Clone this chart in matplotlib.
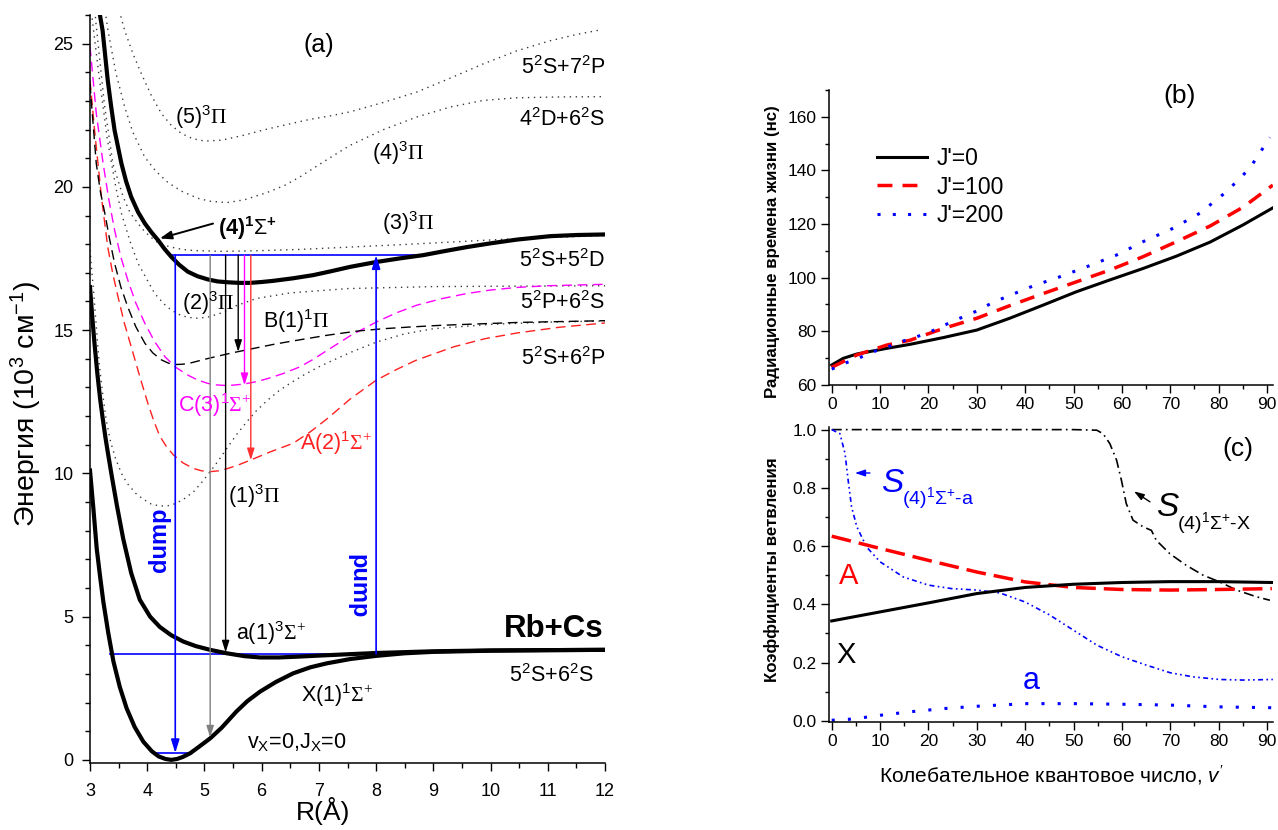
import matplotlib
matplotlib.use("Agg")
import matplotlib.pyplot as plt
from matplotlib.ticker import MultipleLocator, FormatStrFormatter

plt.rcParams['font.family'] = ['Liberation Sans', 'DejaVu Sans']
plt.rcParams['mathtext.fontset'] = 'custom'
plt.rcParams['mathtext.rm'] = 'Liberation Serif'
plt.rcParams['mathtext.sf'] = 'Liberation Sans'
plt.rcParams['mathtext.it'] = 'Liberation Sans:italic'
plt.rcParams['mathtext.bf'] = 'Liberation Sans:bold'

# ---------------- panel (a): potential curves (R in Å, E in 10^3 cm-1) ----------------
X_R = [3.0, 3.06, 3.117, 3.175, 3.233, 3.32, 3.41, 3.52, 3.64, 3.78, 3.93, 4.08, 4.2, 4.32, 4.42, 4.52, 4.62, 4.75,
       4.9, 5.1, 5.3, 5.56, 5.75, 5.97, 6.25, 6.55, 6.85, 7.14, 7.55, 8.0, 8.5, 9.0, 10.0, 11.0, 12.0]
X_E = [10.1, 8.75, 7.38, 6.42, 5.52, 4.42, 3.43, 2.55, 1.80, 1.15, 0.64, 0.3, 0.12, 0.03, 0.0, 0.03, 0.1, 0.23,
       0.45, 0.75, 1.12, 1.69, 2.05, 2.38, 2.72, 3.02, 3.23, 3.37, 3.52, 3.63, 3.72, 3.77, 3.81, 3.83, 3.84]

a_R = [3.0, 3.04, 3.08, 3.13, 3.18, 3.22, 3.27, 3.31, 3.38, 3.47, 3.58, 3.72, 3.87, 4.05, 4.22, 4.42, 4.63, 4.85,
       5.1, 5.39, 5.7, 5.97, 6.3, 6.6, 7.0, 7.55, 8.0, 9.0, 10.0, 12.0]
a_E = [16.5, 15.45, 14.5, 13.45, 12.55, 11.95, 11.25, 10.75, 9.91, 8.88, 7.72, 6.52, 5.59, 5.0, 4.64, 4.35, 4.13,
       3.97, 3.84, 3.72, 3.62, 3.575, 3.575, 3.6, 3.64, 3.69, 3.73, 3.79, 3.82, 3.84]

S4_R = [3.14, 3.22, 3.31, 3.37, 3.43, 3.55, 3.63, 3.72, 3.84, 3.96, 4.08, 4.19, 4.3, 4.42, 4.56, 4.71, 4.88, 5.06,
        5.23, 5.41, 5.6, 5.8, 6.0, 6.2, 6.55, 6.9, 7.2, 7.55, 8.01, 8.4, 8.83, 9.2, 9.59, 10.0, 10.46, 11.04, 11.5, 12.0]
S4_E = [26.4, 25.46, 23.72, 22.8, 21.97, 20.81, 20.2, 19.65, 19.12, 18.72, 18.4, 18.14, 17.84, 17.56, 17.28, 17.04,
        16.88, 16.77, 16.7, 16.67, 16.65, 16.65, 16.68, 16.72, 16.81, 16.92, 17.05, 17.21, 17.38, 17.5, 17.62, 17.76,
        17.9, 18.03, 18.16, 18.28, 18.32, 18.34]

A_R = [3.0, 3.08, 3.2, 3.31, 3.4, 3.49, 3.6, 3.72, 3.86, 4.01, 4.12, 4.22, 4.34, 4.46, 4.63, 4.81, 4.95, 5.1, 5.25,
       5.39, 5.6, 5.8, 6.15, 6.55, 6.85, 7.14, 7.55, 8.0, 8.35, 8.7, 9.36, 9.9, 10.46, 11.2, 12.0]
A_E = [23.72, 21.97, 19.65, 17.9, 16.95, 16.16, 15.25, 14.42, 13.45, 12.45, 11.8, 11.3, 10.92, 10.64, 10.36, 10.17,
       10.09, 10.06, 10.09, 10.16, 10.3, 10.46, 10.75, 11.05, 11.45, 11.9, 12.6, 13.25, 13.62, 13.95, 14.42, 14.7,
       14.9, 15.1, 15.25]

B_R = [3.0, 3.04, 3.11, 3.18, 3.26, 3.34, 3.43, 3.54, 3.66, 3.8, 3.96, 4.1, 4.25, 4.38, 4.5, 4.62, 4.75, 5.0, 5.25,
       5.47, 5.88, 6.2, 6.48, 7.14, 7.68, 8.13, 8.6, 9.15, 10.5, 12.0]
B_E = [23.6, 22.56, 20.81, 19.85, 19.07, 18.2, 17.33, 16.5, 15.81, 15.12, 14.54, 14.2, 13.96, 13.84, 13.8, 13.81,
       13.85, 13.98, 14.1, 14.2, 14.37, 14.5, 14.6, 14.82, 14.97, 15.05, 15.11, 15.17, 15.27, 15.33]

C_R = [3.0, 3.11, 3.23, 3.33, 3.43, 3.54, 3.66, 3.8, 3.96, 4.13, 4.31, 4.5, 4.71, 4.88, 5.06, 5.2, 5.35, 5.5, 5.7,
       5.9, 6.09, 6.37, 6.67, 6.9, 7.15, 7.545, 8.01, 8.35, 8.71, 9.15, 9.59, 10.0, 10.46, 11.0, 12.0]
C_E = [24.9, 22.56, 20.81, 19.55, 18.49, 17.55, 16.75, 15.95, 15.23, 14.6, 14.07, 13.7, 13.43, 13.26, 13.14, 13.09,
       13.07, 13.08, 13.12, 13.2, 13.3, 13.48, 13.72, 13.98, 14.3, 14.8, 15.29, 15.6, 15.87, 16.1, 16.28, 16.4, 16.49,
       16.55, 16.6]

P1_R = [3.0, 3.07, 3.16, 3.22, 3.28, 3.36, 3.45, 3.55, 3.65, 3.8, 3.93, 4.07, 4.22, 4.36, 4.5, 4.65, 4.81, 4.95,
        5.1, 5.25, 5.39, 5.56, 5.74, 5.9, 6.1, 6.3, 6.5, 6.75, 7.0, 7.25, 7.55, 8.0, 8.5, 9.0, 10.0, 11.0, 12.0]
P1_E = [17.8, 16.16, 13.84, 12.8, 11.9, 11.1, 10.5, 10.0, 9.65, 9.3, 9.1, 8.93, 8.86, 8.87, 8.95, 9.12, 9.36, 9.68,
        10.06, 10.46, 10.87, 11.35, 11.8, 12.17, 12.55, 12.88, 13.15, 13.45, 13.72, 13.95, 14.22, 14.58, 14.87, 15.05,
        15.2, 15.28, 15.32]

P2_R = [3.0, 3.15, 3.3, 3.45, 3.55, 3.7, 3.84, 4.0, 4.13, 4.3, 4.42, 4.6, 4.83, 5.05, 5.3, 5.55, 5.9, 6.5, 7.5, 9.0, 12.0]
P2_E = [26.5, 24.0, 21.7, 20.0, 19.07, 18.1, 17.33, 16.75, 16.28, 15.9, 15.7, 15.5, 15.41, 15.45, 15.6, 15.85, 16.1,
        16.3, 16.45, 16.52, 16.55]

P3_R = [3.0, 3.1, 3.25, 3.4, 3.58, 3.7, 3.84, 3.95, 4.05, 4.15, 4.25, 4.38, 4.5, 4.65, 4.8, 5.3, 5.9, 6.7, 7.55,
        8.4, 9.36, 10.5, 12.0]
P3_E = [28.5, 25.8, 22.9, 20.81, 19.65, 19.1, 18.72, 18.45, 18.27, 18.1, 18.0, 17.92, 17.86, 17.81, 17.78, 17.75,
        17.77, 17.82, 17.9, 17.98, 18.08, 18.2, 18.3]

P4_R = [3.2, 3.314, 3.45, 3.606, 3.75, 3.956, 4.15, 4.364, 4.6, 4.888, 5.1, 5.39, 5.7, 6.09, 6.4, 6.67, 7.1, 7.545,
        8.13, 8.71, 9.3, 9.88, 10.46, 11.2, 12.0]
P4_E = [27.0, 25.46, 24.0, 22.79, 21.9, 21.04, 20.55, 20.15, 19.85, 19.6, 19.5, 19.45, 19.55, 19.8, 20.05, 20.35,
        20.9, 21.45, 22.0, 22.44, 22.79, 23.02, 23.11, 23.14, 23.15]

P5_R = [3.45, 3.606, 3.75, 3.898, 4.07, 4.248, 4.42, 4.6, 4.8, 5.0, 5.3, 5.68, 6.0, 6.27, 6.85, 7.2, 7.545, 8.13,
        8.71, 9.3, 9.88, 10.46, 11.04, 11.5, 11.92]
P5_E = [26.6, 25.46, 24.65, 23.95, 23.2, 22.56, 22.15, 21.86, 21.68, 21.6, 21.63, 21.8, 21.97, 22.1, 22.36, 22.48,
        22.62, 22.95, 23.31, 23.8, 24.3, 24.75, 25.1, 25.32, 25.48]

# levels and transitions
level_up_E = 17.61
level_up_R = [4.40, 8.83]
level_a_E = 3.70
level_a_R = [3.35, 8.0]
level_X_E = 0.24
level_X_R = [4.10, 4.75]
pump_R = 8.0
dump_R = 4.49
trans_R = [5.10, 5.37, 5.59, 5.70, 5.81]
trans_E_end = [0.78, 3.75, 14.24, 13.08, 10.46]
trans_colors = ['#808080', 'black', 'black', '#ff00ff', '#ff3030']

# ---------------- panel (b) ----------------
v_J0 = [0, 2.4, 5.2, 11.4, 16.2, 23.1, 30, 36.8, 43.7, 50.6, 57.5, 64.4, 71.3, 78.2, 85, 91.2]
tau_J0 = [67.35, 69.85, 71.46, 73.57, 75.07, 77.6, 80.4, 84.8, 89.7, 94.7, 99.1, 103.4, 108.0, 113.2, 119.6, 126.0]
v_J100 = [0, 5.2, 11.4, 16.2, 23.1, 30, 36.8, 43.7, 50.6, 57.5, 64.4, 71.3, 78.2, 85, 91.2]
tau_J100 = [66.5, 71.1, 74.8, 76.6, 81.0, 84.8, 89.5, 94.0, 98.4, 102.8, 107.8, 113.4, 119.2, 126.2, 134.5]
v_J200 = [0, 2.7, 5.8, 8.6, 11.7, 14.8, 17.6, 20.7, 23.4, 26.5, 29.6, 32.7, 35.8, 41.7, 47.2, 52.7, 58.9, 64.4,
          70.6, 76.1, 81.6, 86.4, 90.6]
tau_J200 = [65.8, 68.0, 70.1, 72.3, 74.2, 76.3, 77.9, 80.0, 82.3, 84.8, 87.2, 90.1, 92.6, 96.9, 100.3, 104.0, 108.4,
            113.4, 118.4, 124.0, 132.0, 140.7, 152.3]
legend_labels = ["J'=0", "J'=100", "J'=200"]

# ---------------- panel (c) ----------------
v_X = [0, 10, 20, 30, 40, 50, 60, 70, 80, 91]
br_X = [0.343, 0.374, 0.405, 0.437, 0.458, 0.469, 0.475, 0.478, 0.478, 0.475]
v_A = [0, 10, 20, 30, 40, 50, 60, 70, 80, 91]
br_A = [0.634, 0.592, 0.551, 0.511, 0.477, 0.458, 0.451, 0.449, 0.451, 0.454]
v_a = [0, 3.4, 6.5, 10, 16.2, 20, 23.1, 30, 40, 50, 60, 70, 80, 91]
br_a = [0.002, 0.005, 0.011, 0.019, 0.031, 0.037, 0.042, 0.05, 0.059, 0.059, 0.057, 0.054, 0.048, 0.045]
v_Sa = [0, 1.7, 2.75, 3.4, 4.1, 5.2, 7.2, 10, 14.8, 20, 24.8, 30, 34.8, 40, 45.1, 50, 54.8, 60, 65.1, 70, 74.7,
        80.2, 85, 91.2]
S_a = [1.0, 0.986, 0.918, 0.826, 0.735, 0.666, 0.597, 0.546, 0.494, 0.466, 0.454, 0.449, 0.439, 0.408, 0.363,
       0.311, 0.26, 0.22, 0.191, 0.165, 0.151, 0.142, 0.14, 0.142]
v_SX = [0, 10, 20, 30, 40, 50, 54.8, 56.1, 57.5, 58.9, 59.9, 60.9, 62.3, 64.4, 66.1, 67.1, 69.9, 73.3, 76.8, 80.2,
        83.7, 87.8, 90.6]
S_X = [1.0, 1.0, 1.0, 1.0, 1.0, 1.0, 0.998, 0.986, 0.952, 0.895, 0.826, 0.746, 0.689, 0.666, 0.654, 0.62, 0.574,
       0.534, 0.5, 0.477, 0.449, 0.426, 0.414]

W, H = 1278, 830
fig = plt.figure(figsize=(W / 100, H / 100), dpi=100)


def frac_box(l, t, r, b):
    return [l / W, 1 - b / H, (r - l) / W, (b - t) / H]


def style_axes(ax, fs=12):
    for s in ['top', 'right']:
        ax.spines[s].set_visible(False)
    for s in ['left', 'bottom']:
        ax.spines[s].set_linewidth(1.1)
    ax.tick_params(which='both', direction='out', width=1.0, labelsize=fs)
    ax.tick_params(which='major', length=6)
    ax.tick_params(which='minor', length=3.5)


# ===== panel (a) =====
ax = fig.add_axes(frac_box(90, 15, 605, 763.3))
style_axes(ax, fs=13)
ax.set_xlim(3, 12)
ax.set_ylim(-0.12, 26.0)
ax.xaxis.set_major_locator(MultipleLocator(1))
ax.xaxis.set_minor_locator(MultipleLocator(0.5))
ax.yaxis.set_major_locator(MultipleLocator(5))
ax.yaxis.set_minor_locator(MultipleLocator(1))
ax.tick_params(axis='x', pad=8)
ax.tick_params(axis='y', pad=6)

dot = dict(color='#3a3a3a', lw=1.0, linestyle=(0, (1, 3.3)))
for Rs, Es in [(P1_R, P1_E), (P2_R, P2_E), (P3_R, P3_E), (P4_R, P4_E), (P5_R, P5_E)]:
    ax.plot(Rs, Es, **dot)
dash = (0, (7, 4))
ax.plot(A_R, A_E, color='#ff2020', lw=1.0, linestyle=dash)
ax.plot(C_R, C_E, color='#ff00ff', lw=1.0, linestyle=dash)
ax.plot(B_R, B_E, color='black', lw=1.0, linestyle=dash)

blue = '#0000ff'
ax.plot(level_up_R, [level_up_E, level_up_E], color=blue, lw=1.2)
ax.plot(level_a_R, [level_a_E, level_a_E], color=blue, lw=1.2)
ax.plot(level_X_R, [level_X_E, level_X_E], color=blue, lw=1.2)

ax.plot(S4_R, S4_E, color='black', lw=3.0)
ax.plot(a_R, a_E, color='black', lw=3.0)
ax.plot(X_R, X_E, color='black', lw=3.0)

for r, e_end, c in zip(trans_R, trans_E_end, trans_colors):
    ax.annotate('', xy=(r, e_end), xytext=(r, level_up_E),
                arrowprops=dict(arrowstyle='-|>,head_length=0.7,head_width=0.22', color=c, lw=1.0,
                                shrinkA=0, shrinkB=0))
ax.annotate('', xy=(dump_R, level_X_E), xytext=(dump_R, level_up_E),
            arrowprops=dict(arrowstyle='-|>,head_length=0.8,head_width=0.25', color=blue, lw=1.2,
                            shrinkA=0, shrinkB=0))
ax.annotate('', xy=(pump_R, level_up_E), xytext=(pump_R, level_a_E),
            arrowprops=dict(arrowstyle='-|>,head_length=0.8,head_width=0.25', color=blue, lw=1.2,
                            shrinkA=0, shrinkB=0))
ax.annotate('', xy=(4.22, 18.2), xytext=(5.15, 18.72),
            arrowprops=dict(arrowstyle='-|>,head_length=0.7,head_width=0.25', color='black', lw=1.4,
                            shrinkA=0, shrinkB=0))

lfs = 15.5
ax.text(6.99, 24.97, '(a)', fontsize=18, ha='center', va='center')
ax.text(4.49, 22.2, r'(5)$^{\mathsf{3}}\Pi$', fontsize=lfs, va='baseline')
ax.text(7.92, 20.95, r'(4)$^{\mathsf{3}}\Pi$', fontsize=lfs, va='baseline')
ax.text(8.10, 18.49, r'(3)$^{\mathsf{3}}\Pi$', fontsize=lfs, va='baseline')
ax.text(5.24, 18.31, r'(4)$^{\mathbf{1}}\mathsf{\Sigma}^{\mathbf{+}}$', fontsize=lfs, fontweight='bold', va='baseline')
ax.text(4.60, 15.7, r'(2)$^{\mathsf{3}}\Pi$', fontsize=lfs, va='baseline')
ax.text(6.03, 15.06, r'B(1)$^{\mathsf{1}}\Pi$', fontsize=lfs, va='baseline')
ax.text(4.54, 12.15, r'C(3)$^{\mathsf{1}}\Sigma^{+}$', fontsize=lfs, va='baseline', color='#ff00ff')
ax.text(6.67, 10.81, r'A(2)$^{\mathsf{1}}\Sigma^{+}$', fontsize=lfs, va='baseline', color='#ff2020')
ax.text(5.42, 8.95, r'(1)$^{\mathsf{3}}\Pi$', fontsize=lfs, va='baseline')
ax.text(5.56, 4.19, r'a(1)$^{\mathsf{3}}\Sigma^{+}$', fontsize=lfs, va='baseline')
ax.text(6.68, 2.03, r'X(1)$^{\mathsf{1}}\Sigma^{+}$', fontsize=lfs, va='baseline')
ax.text(5.74, 0.41, r'v$_{\mathsf{X}}$=0,J$_{\mathsf{X}}$=0', fontsize=lfs, va='baseline')
ax.text(4.22, 7.67, 'dump', fontsize=17, fontweight='bold', color=blue, rotation=90, ha='center', va='center')
ax.text(7.68, 6.07, 'pump', fontsize=17, fontweight='bold', color=blue, rotation=-90, ha='center', va='center')
ax.text(11.97, 4.3, 'Rb+Cs', fontsize=22.5, fontweight='bold', ha='right', va='baseline')
ax.text(11.8, 2.73, r'5$^{\mathsf{2}}$S+6$^{\mathsf{2}}$S', fontsize=lfs, ha='right', va='baseline')
ax.text(12.0, 23.93, r'5$^{\mathsf{2}}$S+7$^{\mathsf{2}}$P', fontsize=lfs, ha='right', va='baseline')
ax.text(12.0, 22.11, r'4$^{\mathsf{2}}$D+6$^{\mathsf{2}}$S', fontsize=lfs, ha='right', va='baseline')
ax.text(12.0, 17.21, r'5$^{\mathsf{2}}$S+5$^{\mathsf{2}}$D', fontsize=lfs, ha='right', va='baseline')
ax.text(12.0, 15.75, r'5$^{\mathsf{2}}$P+6$^{\mathsf{2}}$S', fontsize=lfs, ha='right', va='baseline')
ax.text(12.0, 13.78, r'5$^{\mathsf{2}}$S+6$^{\mathsf{2}}$P', fontsize=lfs, ha='right', va='baseline')

ax.set_ylabel('Энергия (10$^{\\mathsf{3}}$ см$^{\\mathsf{-1}}$)', fontsize=20.5)
ax.yaxis.set_label_coords(-0.124, 0.48)
ax.yaxis.label.set_verticalalignment('center')
ax.set_xlabel('R(Å)', fontsize=19)
ax.xaxis.set_label_coords(0.452, -0.064)
ax.xaxis.label.set_verticalalignment('center')

# ===== panel (b) =====
axb = fig.add_axes(frac_box(829.3, 90, 1273.3, 384.7))
style_axes(axb, fs=12.5)
axb.set_xlim(-0.5, 91.3)
axb.set_ylim(60, 170)
axb.xaxis.set_major_locator(MultipleLocator(10))
axb.xaxis.set_minor_locator(MultipleLocator(5))
axb.yaxis.set_major_locator(MultipleLocator(20))
axb.yaxis.set_minor_locator(MultipleLocator(10))
axb.tick_params(which='major', length=5.5)
axb.tick_params(which='minor', length=3)
l0, = axb.plot(v_J0, tau_J0, color='black', lw=2.2)
l1, = axb.plot(v_J100, tau_J100, color='#ff0000', lw=2.5, linestyle=(0, (4.3, 2.9)))
l2, = axb.plot(v_J200, tau_J200, color='#0000ff', lw=2.2, linestyle=(0, (1, 4)))
axb.legend([l0, l1, l2], legend_labels, loc='upper left', bbox_to_anchor=(0.107, 0.805),
           frameon=False, fontsize=16.5, handlelength=2.2, handletextpad=0.4, labelspacing=0.22,
           borderaxespad=0, borderpad=0)
axb.text(72.0, 167.7, '(b)', fontsize=19, ha='center', va='center')
axb.set_ylabel('Радиационные времена жизни (нс)', fontsize=12.2, fontweight='bold')
axb.yaxis.set_label_coords(-0.129, 0.45)
axb.yaxis.label.set_verticalalignment('center')

# ===== panel (c) =====
axc = fig.add_axes(frac_box(829.3, 426.7, 1273.3, 721.7))
style_axes(axc, fs=12.5)
axc.set_xlim(-0.5, 91.3)
axc.set_ylim(-0.003, 1.01)
axc.xaxis.set_major_locator(MultipleLocator(10))
axc.xaxis.set_minor_locator(MultipleLocator(5))
axc.yaxis.set_major_locator(MultipleLocator(0.2))
axc.yaxis.set_minor_locator(MultipleLocator(0.1))
axc.yaxis.set_major_formatter(FormatStrFormatter('%.1f'))
axc.tick_params(which='major', length=5.5)
axc.tick_params(which='minor', length=3)
axc.plot(v_SX, S_X, color='black', lw=1.2, linestyle=(0, (6, 2.5, 1, 2.5)))
axc.plot(v_Sa, S_a, color='#0000ff', lw=1.2, linestyle=(0, (3, 2, 1, 2, 1, 2)))
axc.plot(v_A, br_A, color='#ff0000', lw=2.5, linestyle=(0, (5.7, 2.3)))
axc.plot(v_X, br_X, color='black', lw=2.2)
axc.plot(v_a, br_a, color='#0000ff', lw=2.2, linestyle=(0, (1, 4.3)))

axc.annotate('', xy=(4.8, 0.851), xytext=(7.9, 0.851),
             arrowprops=dict(arrowstyle='-|>,head_length=0.6,head_width=0.2', color='#0000ff', lw=1.0,
                             shrinkA=0, shrinkB=0))
axc.annotate('', xy=(62.5, 0.788), xytext=(65.8, 0.752),
             arrowprops=dict(arrowstyle='-|>,head_length=0.6,head_width=0.2', color='black', lw=1.0,
                             shrinkA=0, shrinkB=0))
axc.text(10.3, 0.786, 'S', fontsize=24, style='italic', color='#0000ff', va='baseline')
axc.text(14.5, 0.744, r'(4)$^{\mathsf{1}}\mathsf{\Sigma}^{\mathsf{+}}$-a', fontsize=14, color='#0000ff', va='baseline')
axc.text(67.1, 0.702, 'S', fontsize=24, style='italic', color='black', va='baseline')
axc.text(71.3, 0.657, r'(4)$^{\mathsf{1}}\mathsf{\Sigma}^{\mathsf{+}}$-X', fontsize=14, color='black', va='baseline')
axc.text(1.4, 0.471, 'A', fontsize=21, color='#ff0000', va='baseline')
axc.text(0.9, 0.197, 'X', fontsize=21, color='black', va='baseline')
axc.text(39.5, 0.111, 'a', fontsize=22, color='#0000ff', va='baseline')
axc.text(83.9, 0.932, '(c)', fontsize=19, ha='center', va='center')
axc.set_ylabel('Коэффициенты ветвления', fontsize=12.2, fontweight='bold')
axc.yaxis.set_label_coords(-0.129, 0.516)
axc.yaxis.label.set_verticalalignment('center')
axc.set_xlabel("Колебательное квантовое число, $\\mathit{v'}$", fontsize=15)
axc.xaxis.set_label_coords(0.501, -0.181)
axc.xaxis.label.set_verticalalignment('center')

fig.savefig('out.png', dpi=100)
